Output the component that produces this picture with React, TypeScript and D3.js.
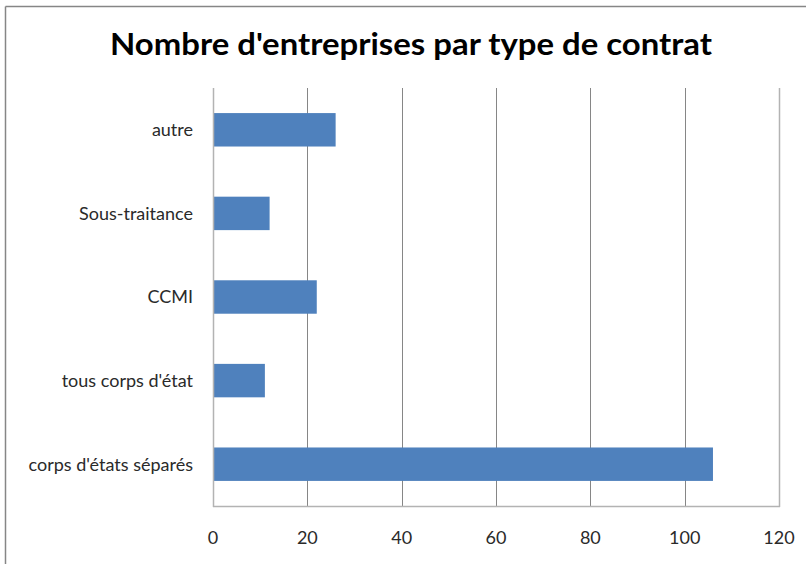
import React from "react";
import * as d3 from "d3";

const categories = ["autre", "Sous-traitance", "CCMI", "tous corps d'état", "corps d'états séparés"];
const values = [26, 12, 22, 11, 106];
const xTicks = [0, 20, 40, 60, 80, 100, 120];
const title = "Nombre d'entreprises par type de contrat";

const W = 806;
const H = 564;
const plot = { left: 213, right: 779, top: 88, bottom: 506 };
const FONT = "Lato, 'Open Sans', sans-serif";

export default function App() {
  const x = d3.scaleLinear().domain([0, 120]).range([plot.left, plot.right]);
  const y = d3
    .scaleBand<string>()
    .domain(categories)
    .range([plot.top, plot.bottom])
    .paddingInner(0.6)
    .paddingOuter(0.3);

  return (
    <svg
      width={W}
      height={H}
      style={{ position: "absolute", left: 0, top: 0, background: "#fff", display: "block" }}
    >
      <rect x={0} y={0} width={W} height={H} fill="#fff" />
      {/* outer chart border */}
      <line x1={5.5} y1={6.5} x2={W} y2={6.5} stroke="#868686" strokeWidth={1.5} />
      <line x1={5.5} y1={6.5} x2={5.5} y2={H} stroke="#868686" strokeWidth={1.5} />

      <text
        x={411}
        y={55}
        textAnchor="middle"
        fontFamily={FONT}
        fontWeight="bold"
        fontSize={30}
        fill="#000"
        textLength={602}
        lengthAdjust="spacingAndGlyphs"
      >
        {title}
      </text>

      {/* gridlines */}
      {xTicks.map((t) => (
        <line
          key={"g" + t}
          x1={Math.round(x(t)) + 0.5}
          x2={Math.round(x(t)) + 0.5}
          y1={plot.top}
          y2={plot.bottom}
          stroke="#868686"
          strokeWidth={1}
        />
      ))}
      {/* bars */}
      {categories.map((c, i) => (
        <rect
          key={c}
          x={x(0)}
          y={y(c)}
          width={x(values[i]) - x(0)}
          height={y.bandwidth()}
          fill="#4f81bd"
        />
      ))}
      {/* axes box */}
      <line x1={plot.left + 0.5} x2={plot.left + 0.5} y1={plot.top} y2={plot.bottom + 1} stroke="#b3b3b3" strokeWidth={1.5} />
      <line x1={plot.left} x2={plot.right + 1} y1={plot.bottom + 0.5} y2={plot.bottom + 0.5} stroke="#b3b3b3" strokeWidth={1.5} />
      <line x1={plot.right + 0.5} x2={plot.right + 0.5} y1={plot.top} y2={plot.bottom + 1} stroke="#b3b3b3" strokeWidth={1.5} />

      {/* category labels */}
      {categories.map((c) => (
        <text
          key={"l" + c}
          x={193}
          y={(y(c) as number) + y.bandwidth() / 2}
          dy="0.36em"
          textAnchor="end"
          fontFamily={FONT}
          fontSize={18}
          fill="#2a2a2a"
        >
          {c}
        </text>
      ))}
      {/* x tick labels */}
      {xTicks.map((t) => (
        <text
          key={"t" + t}
          x={x(t)}
          y={543.5}
          textAnchor="middle"
          fontFamily={FONT}
          fontSize={18}
          fill="#2a2a2a"
        >
          {t}
        </text>
      ))}
    </svg>
  );
}
